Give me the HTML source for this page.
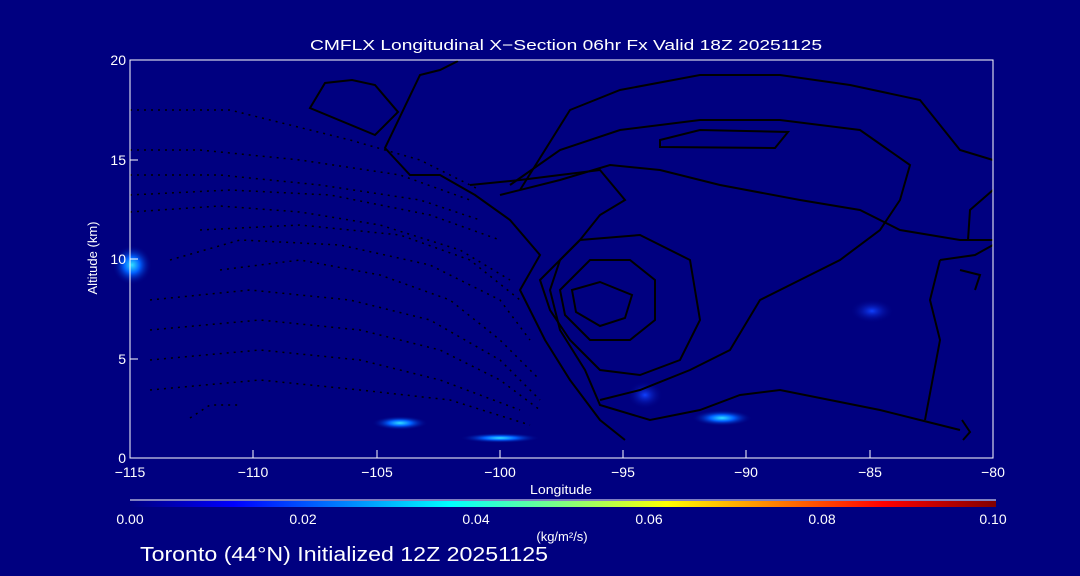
<!DOCTYPE html>
<html><head><meta charset="utf-8"><style>
html,body{margin:0;padding:0;background:#000080;width:1080px;height:576px;overflow:hidden}
text{font-family:"Liberation Sans",sans-serif;fill:#fff}
</style></head><body>
<svg width="1080" height="576" viewBox="0 0 1080 576">
<defs>
<linearGradient id="cb" x1="0" x2="1"><stop offset="0" stop-color="#000080"/><stop offset="0.12" stop-color="#0000ff"/><stop offset="0.37" stop-color="#00ffff"/><stop offset="0.5" stop-color="#80ff80"/><stop offset="0.62" stop-color="#ffff00"/><stop offset="0.87" stop-color="#ff0000"/><stop offset="1" stop-color="#800000"/></linearGradient>
<radialGradient id="bl"><stop offset="0" stop-color="#30e0ff"/><stop offset="0.4" stop-color="#0060ff"/><stop offset="1" stop-color="#000080" stop-opacity="0"/></radialGradient>
<radialGradient id="bl2"><stop offset="0" stop-color="#1040ff"/><stop offset="1" stop-color="#000080" stop-opacity="0"/></radialGradient>
</defs>
<rect width="1080" height="576" fill="#000080"/>
<ellipse cx="132" cy="265" rx="20" ry="20" fill="url(#bl)"/>
<ellipse cx="400" cy="423" rx="28" ry="7" fill="url(#bl)"/>
<ellipse cx="500" cy="438" rx="40" ry="5" fill="url(#bl)"/>
<ellipse cx="722" cy="418" rx="30" ry="8" fill="url(#bl)"/>
<ellipse cx="872" cy="311" rx="22" ry="12" fill="url(#bl2)"/>
<ellipse cx="645" cy="395" rx="18" ry="14" fill="url(#bl2)"/>
<g fill="none" stroke="#000" stroke-width="2">
<path d="M310,108 L325,83 L352,80 L375,85 L398,112 L375,135 Z"/>
<path d="M458,61 L440,70 L420,75 L385,148 L410,175 L440,175 L475,195 L510,220 L540,255 L520,290 L545,340 L570,380 L600,420 L625,440"/>
<path d="M470,185 L520,180 L560,175 L600,170 L625,200 L600,215 L580,240 L560,260 L550,290 L560,330 L585,370 L600,405 L650,420 L700,410 L740,395 L780,390 L830,400 L880,410 L920,420 L960,430"/>
<path d="M500,195 L560,180 L610,165 L660,170 L720,185 L800,200 L860,210 L900,230 L960,240 L993,240"/>
<path d="M510,185 L560,150 L620,130 L700,120 L780,120 L860,130 L910,165 L900,200 L880,230 L840,260 L800,280 L760,300 L730,350 L690,370 L640,390 L600,400"/>
<path d="M520,190 L570,110 L620,90 L700,75 L780,75 L850,85 L920,100 L960,150 L993,160"/>
<path d="M540,280 L580,240 L640,235 L690,260 L700,320 L680,360 L640,375 L600,370 L570,340 L550,310 Z"/>
<path d="M560,290 L590,260 L630,260 L655,280 L655,320 L630,340 L590,340 L565,315 Z"/>
<path d="M572,290 L600,282 L632,295 L625,318 L600,326 L576,312 Z"/>
<path d="M660,140 L700,130 L788,132 L775,148 L660,147 Z"/>
<path d="M993,190 L970,210 L968,240"/>
<path d="M940,260 L975,255 L993,245 M940,260 L930,300 L940,340 L925,420 M960,270 L980,275 L975,290"/>
<path d="M962,420 L970,432 L963,440"/>
</g>
<g fill="none" stroke="#000" stroke-width="1.5" stroke-dasharray="2,5">
<path d="M130,110 L230,110 L350,140 L420,160 L480,190"/>
<path d="M130,150 L200,150 L300,160 L400,175 L470,200"/>
<path d="M130,175 L220,175 L320,185 L420,200 L480,220"/>
<path d="M130,195 L230,190 L330,195 L430,215 L500,240"/>
<path d="M130,212 L220,206 L300,212 L380,225 L460,250 L510,280"/>
<path d="M200,230 L300,225 L400,235 L470,260 L520,300"/>
<path d="M170,260 L240,240 L340,245 L430,265 L500,300 L530,340"/>
<path d="M220,270 L300,260 L380,275 L450,300 L500,340 L540,380"/>
<path d="M150,300 L250,290 L350,300 L430,320 L500,360 L540,400"/>
<path d="M150,330 L260,320 L360,330 L440,350 L500,380 L540,410"/>
<path d="M150,360 L260,350 L360,360 L440,380 L520,410"/>
<path d="M150,390 L260,380 L360,390 L450,400 L530,425"/>
<path d="M190,418 L210,405 L240,405"/>
</g>
<rect x="130" y="60" width="863" height="398" fill="none" stroke="#fff" stroke-width="1"/>
<g stroke="#fff" stroke-width="1">
<path d="M130,458v-8M253,458v-8M377,458v-8M500,458v-8M623,458v-8M746,458v-8M870,458v-8M993,458v-8"/>
<path d="M130,458h8M130,359h8M130,259h8M130,160h8M130,60h8"/>
</g>
<g font-size="14" text-anchor="middle">
<text x="130" y="477">−115</text><text x="253" y="477">−110</text><text x="377" y="477">−105</text><text x="500" y="477">−100</text><text x="623" y="477">−95</text><text x="746" y="477">−90</text><text x="870" y="477">−85</text><text x="993" y="477">−80</text>
<text x="561" y="494" font-size="13" textLength="62" lengthAdjust="spacingAndGlyphs">Longitude</text>
</g>
<text x="310" y="50" font-size="15" textLength="512" lengthAdjust="spacingAndGlyphs">CMFLX Longitudinal X−Section 06hr  Fx Valid 18Z 20251125</text>
<g font-size="14" text-anchor="end">
<text x="126" y="463">0</text><text x="126" y="364">5</text><text x="126" y="264">10</text><text x="126" y="165">15</text><text x="126" y="65">20</text>
</g>
<text x="97" y="258" font-size="13" text-anchor="middle" transform="rotate(-90 97 258)">Altitude (km)</text>
<line x1="130" y1="500" x2="996" y2="500" stroke="#fff"/>
<rect x="130" y="501" width="866" height="6" fill="url(#cb)"/>
<g font-size="14" text-anchor="middle">
<text x="130" y="524">0.00</text><text x="303" y="524">0.02</text><text x="476" y="524">0.04</text><text x="649" y="524">0.06</text><text x="822" y="524">0.08</text><text x="993" y="524">0.10</text>
<text x="562" y="541" font-size="13">(kg/m²/s)</text>
</g>
<text x="140" y="561" font-size="20" textLength="408" lengthAdjust="spacingAndGlyphs">Toronto (44°N) Initialized 12Z 20251125</text>
</svg>
</body></html>
